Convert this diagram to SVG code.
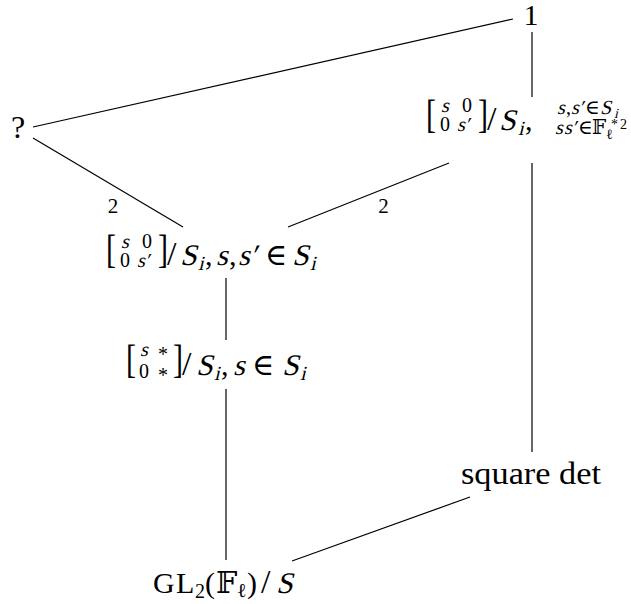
<svg xmlns="http://www.w3.org/2000/svg" width="631" height="604" viewBox="0 0 631 604">
<style>
text { font-family: "Liberation Serif", "DejaVu Serif", serif; fill: #000; }
.m { font-size: 30px; }
.sl { font-size: 34px; }
.e { font-size: 20px; }
.sb { font-size: 20px; }
.ss { font-size: 20px; }
.sss { font-size: 14px; }
.lb { font-size: 21px; }
.edge { stroke: #000; stroke-width: 1.2; fill: none; }
</style>
<rect width="631" height="604" fill="#fff"/>
<g id="connectors">
  <line class="edge" x1="513" y1="19" x2="33" y2="127"/>
  <line class="edge" x1="33" y1="138" x2="183" y2="227"/>
  <line class="edge" x1="288" y1="227" x2="449" y2="163"/>
  <line class="edge" x1="532" y1="32" x2="532" y2="97"/>
  <line class="edge" x1="532" y1="163" x2="532" y2="452"/>
  <line class="edge" x1="226" y1="278" x2="226" y2="340"/>
  <line class="edge" x1="226" y1="389" x2="226" y2="560"/>
  <line class="edge" x1="292" y1="561" x2="470" y2="497"/>
  <text class="lb" x="113" y="213" text-anchor="middle">2</text>
  <text class="lb" x="383.5" y="213" text-anchor="middle">2</text>
</g>
<g id="node-one">
  <text class="m" x="531" y="25" text-anchor="middle">1</text>
</g>
<g id="node-q">
  <text class="m" x="11" y="138" style="font-size:32px">?</text>
</g>
<g id="node-diag-square">
  <text class="m" transform="translate(426,128) scale(1,1.3)">[</text>
  <text class="e" transform="translate(441,112) skewX(-14)">s</text>
  <text class="e" x="462" y="112">0</text>
  <text class="e" x="440" y="131">0</text>
  <text class="e" transform="translate(457,131) skewX(-14)">s′</text>
  <text class="m" transform="translate(478,128) scale(1,1.3)">]</text>
  <text class="sl" x="487" y="130">/</text>
  <text class="m" transform="translate(499,130) skewX(-14)">S</text>
  <text class="sb" transform="translate(518,135) skewX(-14)">i</text>
  <text class="m" x="525" y="130">,</text>
  <text class="ss" transform="translate(557,114) skewX(-14)">s</text>
  <text class="ss" x="566" y="114">,</text>
  <text class="ss" transform="translate(571,114) skewX(-14)">s′</text>
  <text class="ss" x="585" y="114">∈</text>
  <text class="ss" transform="translate(600,114) skewX(-14)">S</text>
  <text class="sss" transform="translate(614,118) skewX(-14)">i</text>
  <text class="ss" transform="translate(555,134) skewX(-14)">s</text>
  <text class="ss" transform="translate(564,134) skewX(-14)">s′</text>
  <text class="ss" x="578" y="134">∈</text>
  <text class="ss" x="592" y="134">𝔽</text>
  <text class="sss" x="606" y="139">ℓ</text>
  <text class="sss" x="611" y="129">*</text>
  <text class="sss" x="620" y="129">2</text>
</g>
<g id="node-diag">
  <text class="m" transform="translate(106,263) scale(1,1.3)">[</text>
  <text class="e" transform="translate(121,248) skewX(-14)">s</text>
  <text class="e" x="142" y="248">0</text>
  <text class="e" x="120" y="267">0</text>
  <text class="e" transform="translate(137,267) skewX(-14)">s′</text>
  <text class="m" transform="translate(158,263) scale(1,1.3)">]</text>
  <text class="sl" x="167" y="265">/</text>
  <text class="m" transform="translate(180,265) skewX(-14)">S</text>
  <text class="sb" transform="translate(198,270) skewX(-14)">i</text>
  <text class="m" x="205" y="265">,</text>
  <text class="m" transform="translate(216,265) skewX(-14)">s</text>
  <text class="m" x="229" y="265">,</text>
  <text class="m" transform="translate(238,265) skewX(-14)">s′</text>
  <text class="m" x="265" y="265">∈</text>
  <text class="m" transform="translate(292,265) skewX(-14)">S</text>
  <text class="sb" transform="translate(310,270) skewX(-14)">i</text>
</g>
<g id="node-borel">
  <text class="m" transform="translate(126,373) scale(1,1.3)">[</text>
  <text class="e" transform="translate(140,356) skewX(-14)">s</text>
  <text class="e" x="158" y="361">*</text>
  <text class="e" x="139" y="378">0</text>
  <text class="e" x="158" y="382">*</text>
  <text class="m" transform="translate(173,373) scale(1,1.3)">]</text>
  <text class="sl" x="182" y="375">/</text>
  <text class="m" transform="translate(196,375) skewX(-14)">S</text>
  <text class="sb" transform="translate(214,380) skewX(-14)">i</text>
  <text class="m" x="221" y="375">,</text>
  <text class="m" transform="translate(233,375) skewX(-14)">s</text>
  <text class="m" x="252" y="375">∈</text>
  <text class="m" transform="translate(282,375) skewX(-14)">S</text>
  <text class="sb" transform="translate(300,380) skewX(-14)">i</text>
</g>
<g id="node-sqdet">
  <text class="m" x="461" y="484" style="font-size:31px" textLength="140" lengthAdjust="spacingAndGlyphs">square det</text>
</g>
<g id="node-gl">
  <text class="m" x="153" y="593">G</text>
  <text class="m" x="176" y="593">L</text>
  <text class="sb" x="195" y="598">2</text>
  <text class="m" x="205" y="593">(</text>
  <text class="m" x="216" y="593">𝔽</text>
  <text class="sb" x="237" y="597">ℓ</text>
  <text class="m" x="247" y="593">)</text>
  <text class="sl" x="261" y="593">/</text>
  <text class="m" transform="translate(276,593) skewX(-14)">S</text>
</g>
</svg>
